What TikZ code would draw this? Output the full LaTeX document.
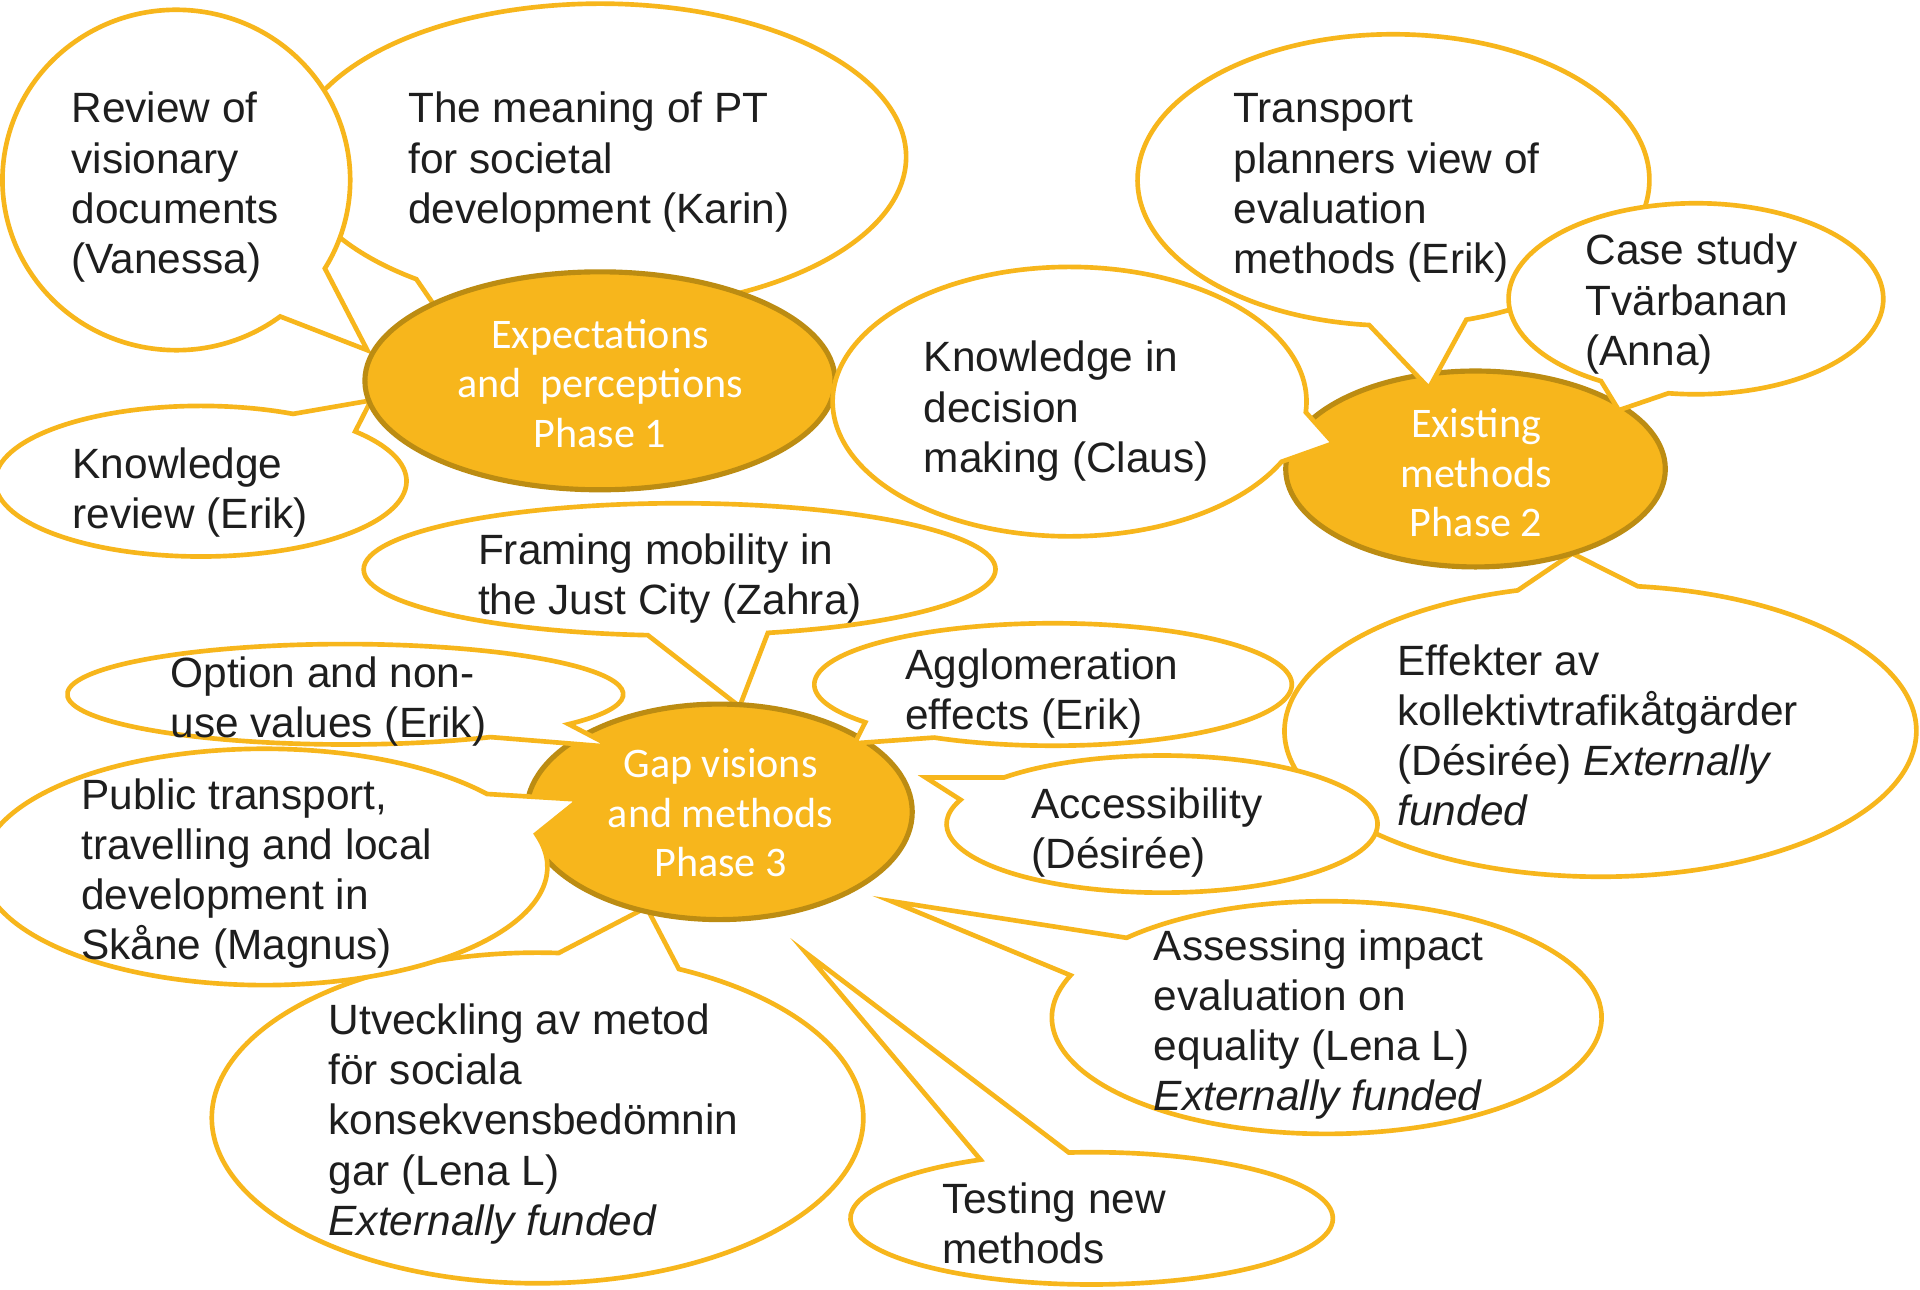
\documentclass[tikz,border=0pt]{standalone}
\usepackage{fontspec}
\usetikzlibrary{shapes.geometric}
\setmainfont{Liberation Sans}
\newfontfamily\calibfont{Carlito}
\definecolor{gold}{RGB}{247,182,28}
\definecolor{golddark}{RGB}{188,140,18}
\definecolor{ink}{RGB}{30,30,30}
\tikzset{
  bubbleline/.style={draw=gold, line width=1.9pt, fill=white},
  phase/.style={ellipse, draw=golddark, fill=gold, line width=2.1pt, inner sep=0pt},
  btext/.style={anchor=north west, align=left, inner sep=0pt, text=ink,
    font=\fontsize{17.3}{20.5}\selectfont},
  ptext/.style={anchor=north, align=center, inner sep=0pt, text=white,
    font=\calibfont\fontsize{17.2}{20.25}\selectfont},
}
% speech bubble: name, cx, cy, rx, ry, tip x, tip y (PowerPoint wedge ellipse callout, 22 deg base)
\newcommand{\bubble}[7]{%
  \coordinate (#1) at (#2,#3);
  \coordinate (#1tip) at (#6,#7);
  \pgfmathsetmacro{\bubA}{atan2(((#7)-(#3))/(#5),((#6)-(#2))/(#4))}%
  \pgfmathsetmacro{\bubS}{\bubA+11}%
  \pgfmathsetmacro{\bubE}{\bubA+349}%
  \draw[bubbleline] (#1) ++(\bubS:#4 and #5)
    arc[start angle=\bubS, end angle=\bubE, x radius=#4, y radius=#5]
    -- (#1tip) -- cycle;
}
\begin{document}
\begin{tikzpicture}[x=0.5pt, y=-0.5pt]
\useasboundingbox (0,0) rectangle (1568,1052.7);
\fill[white] (0,0) rectangle (1568,1052.7);

% Phase 1 cluster
\bubble{c2}{490}{128}{250}{125}{362}{260}
\node[btext] (t2) at (333,71.2) {\strut The meaning of PT\\for societal\\development (Karin)};
\bubble{c1}{144}{147}{142}{139}{300}{286}
\node[btext] (t1) at (58,71.2) {\strut Review of\\visionary\\documents\\(Vanessa)};
\bubble{c3}{164}{393}{168}{61.5}{303}{327}
\node[btext] (t3) at (59,361.7) {\strut Knowledge\\review (Erik)};
\node[phase, minimum width=192pt, minimum height=89pt] (p1) at (490,311) {};
\node[ptext] (p1t) at (490,255.5) {\strut Expectations\\and\ \ perceptions\\Phase 1};

% Phase 3 cluster
\bubble{c4}{555}{465}{258}{54}{604}{577}
\node[btext] (t4) at (390,431.7) {\strut Framing mobility in\\the Just City (Zahra)};
\bubble{c7}{439}{913}{266}{135}{528}{741}
\node[btext] (t7) at (268,815.7) {\strut Utveckling av metod\\för sociala\\konsekvensbedömnin\\gar (Lena L)\\\textit{Externally funded}};
\bubble{c11}{891.5}{995}{197}{54}{658}{778}
\node[btext] (t11) at (769,961.7) {\strut Testing new\\methods};
\bubble{c10}{1083.5}{831}{224.5}{95}{728}{736}
\node[btext] (t10) at (942,755.2) {\strut Assessing impact\\evaluation on\\equality (Lena L)\\\textit{Externally funded}};
\bubble{c15}{1307}{597}{258}{119}{1284}{452}
\node[btext] (t15) at (1141,522.2) {\strut Effekter av\\kollektivtrafikåtgärder\\(Désirée) \textit{Externally}\\\textit{funded}};
\node[phase, minimum width=157.5pt, minimum height=88pt] (p3) at (587.5,663) {};
\node[ptext] (p3t) at (588.5,606.25) {\strut Gap visions\\and methods\\Phase 3};
\bubble{c5}{282}{567}{227}{41}{500}{610}
\node[btext] (t5) at (139,532.2) {\strut Option and non-\\use values (Erik)};
\bubble{c6}{216}{708}{231}{96.5}{473}{653}
\node[btext] (t6) at (66,631.7) {\strut Public transport,\\travelling and local\\development in\\Skåne (Magnus)};
\bubble{c8}{860}{559}{195}{50}{698}{607}
\node[btext] (t8) at (739,525.7) {\strut Agglomeration\\effects (Erik)};
\bubble{c9}{949}{673}{176}{56}{756}{635}
\node[btext] (t9) at (842,639.2) {\strut Accessibility\\(Désirée)};

% Phase 2 cluster
\node[phase, minimum width=155pt, minimum height=80pt] (p2) at (1205,383) {};
\node[ptext] (p2t) at (1205.5,328.5) {\strut Existing\\methods\\Phase 2};
\bubble{c12}{873.5}{328}{193.5}{110}{1089}{362}
\node[btext] (t12) at (754,274.7) {\strut Knowledge in\\decision\\making (Claus)};
\bubble{c13}{1138}{147}{209}{119}{1167}{317}
\node[btext] (t13) at (1007,71.2) {\strut Transport\\planners view of\\evaluation\\methods (Erik)};
\bubble{c14}{1385}{244}{153}{78}{1322}{335}
\node[btext] (t14) at (1294.5,187.2) {\strut Case study\\Tvärbanan\\(Anna)};
\end{tikzpicture}
\end{document}
